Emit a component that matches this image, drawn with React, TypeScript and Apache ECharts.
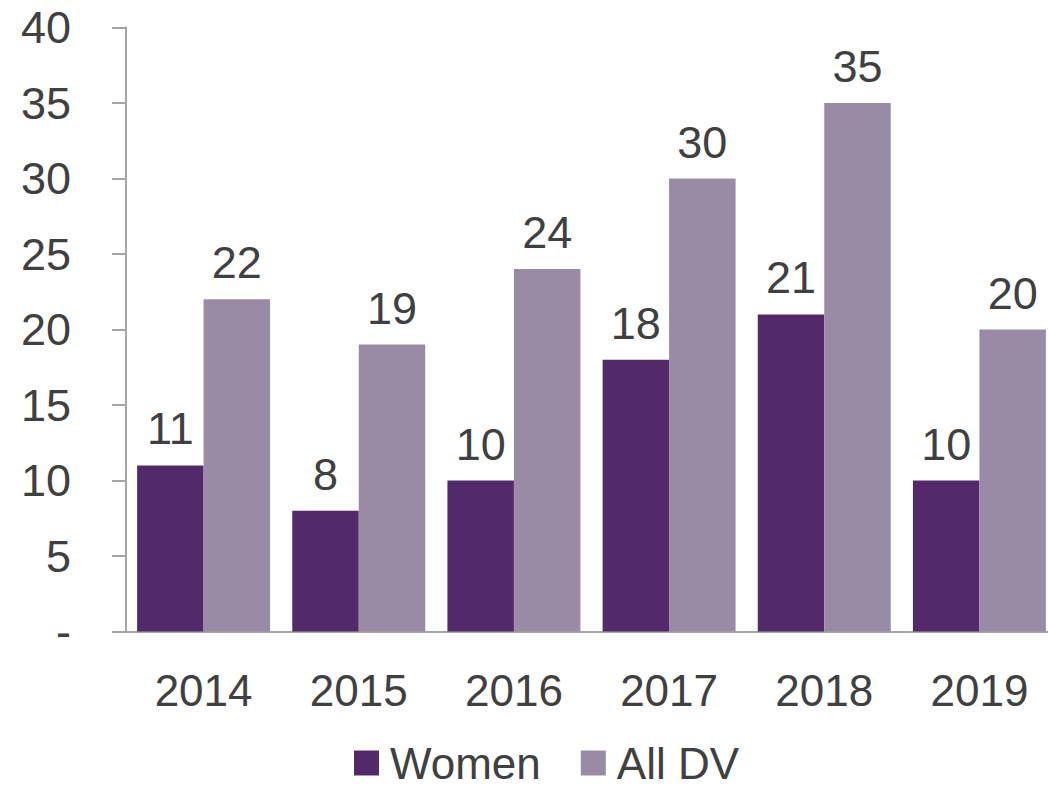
import React, { useEffect, useRef } from "react";
import * as echarts from "echarts";

const categories = ["2014", "2015", "2016", "2017", "2018", "2019"];
const women = [11, 8, 10, 18, 21, 10];
const allDV = [22, 19, 24, 30, 35, 20];
const yTicks = { min: 0, max: 40, interval: 5 };

const FONT = "Liberation Sans";
const TEXT = "#404040";

export default function App() {
  const ref = useRef<HTMLDivElement>(null);
  useEffect(() => {
    const chart = echarts.init(ref.current!, null, { renderer: "svg" });
    const label = {
      show: true,
      position: "top",
      distance: 14,
      color: TEXT,
      fontFamily: FONT,
      fontSize: 45,
    };
    chart.setOption({
      animation: false,
      grid: { left: 126, right: 0, top: 27.5, bottom: 156.5, containLabel: false },
      legend: {
        bottom: 3,
        left: 354,
        padding: 0,
        itemWidth: 25,
        itemHeight: 25,
        itemGap: 40,
        icon: "rect",
        textStyle: {
          color: TEXT,
          fontFamily: FONT,
          fontSize: 44,
          lineHeight: 40,
          padding: [0, 0, 0, 6],
        },
        data: ["Women", "All DV"],
      },
      xAxis: {
        type: "category",
        data: categories,
        axisLine: { lineStyle: { color: "#a6a6a6", width: 2 } },
        axisTick: { show: false },
        axisLabel: { color: TEXT, fontFamily: FONT, fontSize: 44, margin: 37 },
      },
      yAxis: {
        type: "value",
        min: yTicks.min,
        max: yTicks.max,
        interval: yTicks.interval,
        splitLine: { show: false },
        axisLine: { show: true, lineStyle: { color: "#a6a6a6", width: 2 } },
        axisTick: { show: true, length: 14, lineStyle: { color: "#a6a6a6", width: 2 } },
        axisLabel: {
          color: TEXT,
          fontFamily: FONT,
          fontSize: 45,
          margin: 55,
          formatter: (v: number) => (v === 0 ? "-" : String(v)),
        },
      },
      series: [
        {
          name: "Women",
          type: "bar",
          data: women,
          barGap: "0%",
          barCategoryGap: "14.3%",
          itemStyle: { color: "#532a69" },
          label,
        },
        {
          name: "All DV",
          type: "bar",
          data: allDV,
          barGap: "0%",
          barCategoryGap: "14.3%",
          itemStyle: { color: "#998aa5" },
          label,
        },
      ],
    });
    return () => chart.dispose();
  }, []);
  return (
    <div
      ref={ref}
      style={{ position: "fixed", left: 0, top: 0, width: 1057, height: 788, background: "#fff" }}
    />
  );
}
